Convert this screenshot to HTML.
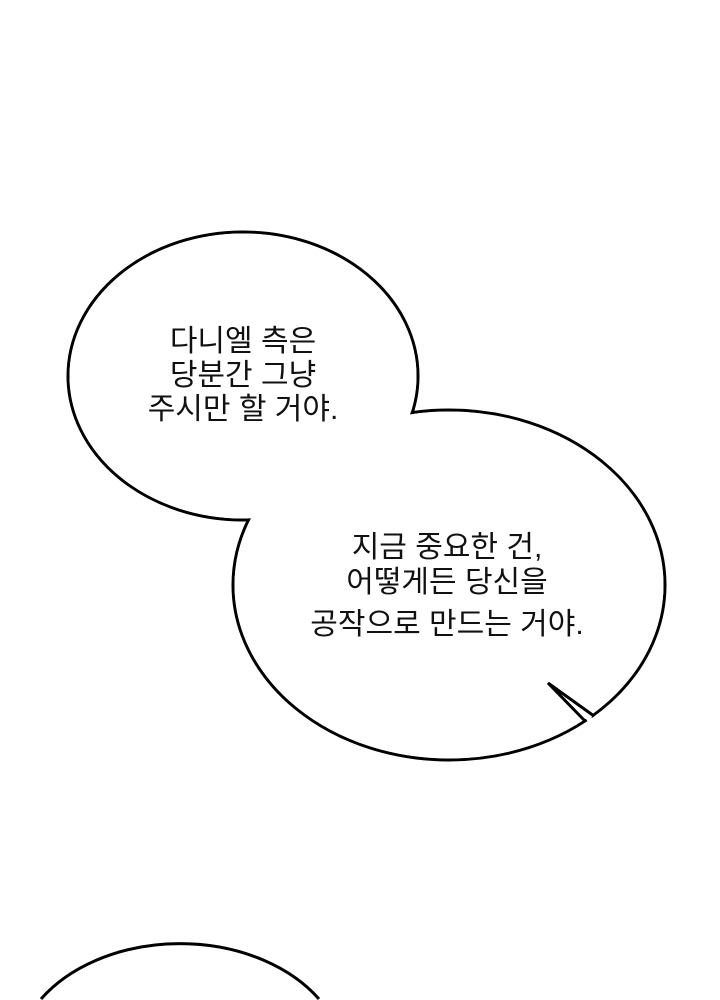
<!DOCTYPE html>
<html><head><meta charset="utf-8"><style>
html,body{margin:0;padding:0;background:#fff;width:720px;height:1000px;overflow:hidden;}
svg{display:block;overflow:hidden}
text{font-family:"Liberation Sans","Noto Sans CJK KR",sans-serif;font-size:30px;fill:#111;text-anchor:middle}
</style></head><body>
<svg width="720" height="1000" viewBox="0 0 720 1000" overflow="hidden">
<rect width="720" height="1000" fill="#fff"/>
<g stroke="#000" stroke-width="3" fill="none">
<ellipse cx="243" cy="376" rx="175" ry="144"/>
<ellipse cx="449" cy="585" rx="216" ry="175"/>
<path d="M41,999 A165,120 0 0 1 319,999"/>
</g>
<g fill="#fff">
<ellipse cx="243" cy="376" rx="173.5" ry="142.5"/>
<ellipse cx="449" cy="585" rx="214.5" ry="173.5"/>
<polygon points="586,719 551,686 592,716 590,725"/>
</g>
<polyline points="585,721 548,683 594,716" stroke="#000" stroke-width="3" fill="none"/>
<text x="243" y="351">다니엘 측은</text>
<text x="243" y="385">당분간 그냥</text>
<text x="243" y="419">주시만 할 거야.</text>
<text x="447" y="557">지금 중요한 건,</text>
<text x="447" y="592">어떻게든 당신을</text>
<text x="447" y="634">공작으로 만드는 거야.</text>
</svg>
</body></html>
